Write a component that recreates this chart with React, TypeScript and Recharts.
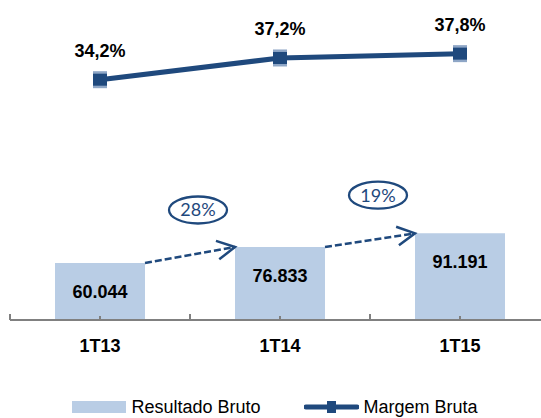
import {
  Bar,
  ComposedChart,
  LabelList,
  Legend,
  Line,
  ReferenceLine,
  XAxis,
  YAxis,
} from "recharts";

const categories = ["1T13", "1T14", "1T15"];
const resultadoBruto = [60044, 76833, 91191];
const margemBruta = [34.2, 37.2, 37.8];
const growthLabels = ["28%", "19%"];

const navy = "#1F497D";
const barFill = "#B9CDE5";
const axisGray = "#808080";
const font = '"Liberation Sans", Arial, sans-serif';

const data = categories.map((label, i) => ({
  label,
  pos: i + 0.5,
  resultado: resultadoBruto[i],
  margem: margemBruta[i],
}));

// boundaries + centres of each category band
const xTicks = categories.flatMap((_, i) => [i, i + 0.5]).concat(categories.length);

const formatThousands = (v: number) => String(v).replace(/\B(?=(\d{3})+(?!\d))/g, ".");
const formatPct = (v: number) => `${v.toFixed(1).replace(".", ",")}%`;

function AxisTick({ x, y, payload }: any) {
  const v = payload.value as number;
  const isCenter = v % 1 !== 0;
  return (
    <g>
      <line x1={x} x2={x} y1={y} y2={y - (isCenter ? 4 : 6)} stroke={axisGray} strokeWidth={2} />
      {isCenter ? (
        <text x={x} y={y + 32} textAnchor="middle" fontFamily={font} fontWeight="bold" fontSize={18} fill="#000">
          {categories[Math.floor(v)]}
        </text>
      ) : null}
    </g>
  );
}

function SquareDot({ cx, cy, index }: any) {
  return (
    <g key={`dot-${index}`}>
      <rect x={cx - 7} y={cy - 8.5} width={14} height={17} fill="#8EA6C6" />
      <rect x={cx - 7} y={cy - 6} width={14} height={12} fill={navy} />
    </g>
  );
}

function GrowthArrow({ x1, y1, x2, y2, label }: any) {
  const back = Math.atan2(y2 - y1, x2 - x1) + Math.PI;
  const spread = (28 * Math.PI) / 180;
  const wing = 20;
  const w1 = [x2 + wing * Math.cos(back - spread), y2 + wing * Math.sin(back - spread)];
  const w2 = [x2 + wing * Math.cos(back + spread), y2 + wing * Math.sin(back + spread)];
  const ex = (x1 + x2) / 2 + 8;
  const ey = (y1 + y2) / 2 - 45;
  return (
    <g>
      <line x1={x1} y1={y1} x2={x2} y2={y2} stroke={navy} strokeWidth={2.5} strokeDasharray="7 3" />
      <polyline
        points={`${w1[0]},${w1[1]} ${x2},${y2} ${w2[0]},${w2[1]}`}
        fill="none"
        stroke={navy}
        strokeWidth={2.5}
      />
      <ellipse cx={ex} cy={ey} rx={29} ry={13.5} fill="none" stroke={navy} strokeWidth={2.3} />
      <text x={ex} y={ey + 6.5} textAnchor="middle" fontFamily="Lato, sans-serif" fontSize={18} fill={navy}>
        {label}
      </text>
    </g>
  );
}

function LegendContent() {
  return (
    <div
      style={{
        display: "flex",
        justifyContent: "center",
        alignItems: "center",
        width: 541,
        height: 22,
        lineHeight: "22px",
        paddingLeft: 9,
        boxSizing: "border-box",
        fontFamily: font,
        fontSize: 18,
        color: "#000",
      }}
    >
      <span style={{ display: "inline-block", width: 54, height: 12, background: barFill, marginRight: 5 }} />
      <span>Resultado Bruto</span>
      <svg width={55} height={18} style={{ marginLeft: 43, marginRight: 5 }}>
        <line x1={2} x2={53} y1={9} y2={9} stroke={navy} strokeWidth={5} strokeLinecap="round" />
        <rect x={23} y={3} width={9} height={12} fill={navy} />
      </svg>
      <span>Margem Bruta</span>
    </div>
  );
}

export default function App() {
  return (
    <div style={{ position: "absolute", top: 0, left: 0, width: 541, height: 418, overflow: "hidden", background: "#fff" }}>
      <ComposedChart width={560} height={418} data={data} margin={{ top: 16, right: 10, left: 10, bottom: 0 }}>
        <XAxis
          dataKey="pos"
          type="number"
          domain={[0, categories.length]}
          ticks={xTicks}
          interval={0}
          height={76}
          tickSize={0}
          tickMargin={0}
          tickLine={false}
          axisLine={{ stroke: axisGray, strokeWidth: 2 }}
          tick={<AxisTick />}
        />
        <YAxis yAxisId="bar" hide domain={[0, 320000]} />
        <YAxis yAxisId="line" hide domain={[1, 43]} />
        <Bar yAxisId="bar" dataKey="resultado" name="Resultado Bruto" fill={barFill} barSize={90} isAnimationActive={false}>
          <LabelList
            dataKey="resultado"
            content={({ x, y, width, value }: any) => (
              <text
                x={x + width / 2}
                y={y + 35}
                textAnchor="middle"
                fontFamily={font}
                fontWeight="bold"
                fontSize={18}
                fill="#000"
              >
                {formatThousands(value)}
              </text>
            )}
          />
        </Bar>
        {growthLabels.map((label, i) => (
          <ReferenceLine
            key={label}
            yAxisId="bar"
            segment={[
              { x: data[i].pos + 0.25, y: resultadoBruto[i] },
              { x: data[i + 1].pos - 0.25, y: resultadoBruto[i + 1] },
            ]}
            shape={(p: any) => <GrowthArrow {...p} label={label} />}
          />
        ))}
        <Line
          yAxisId="line"
          dataKey="margem"
          name="Margem Bruta"
          stroke={navy}
          strokeWidth={5}
          dot={(p: any) => <SquareDot {...p} />}
          activeDot={false}
          isAnimationActive={false}
        >
          <LabelList
            dataKey="margem"
            content={({ x, y, value }: any) => (
              <text x={x} y={y - 23} textAnchor="middle" fontFamily={font} fontWeight="bold" fontSize={18} fill="#000">
                {formatPct(value)}
              </text>
            )}
          />
        </Line>
        <Legend verticalAlign="bottom" content={() => <LegendContent />} wrapperStyle={{ left: 0, width: 541 }} />
      </ComposedChart>
    </div>
  );
}
